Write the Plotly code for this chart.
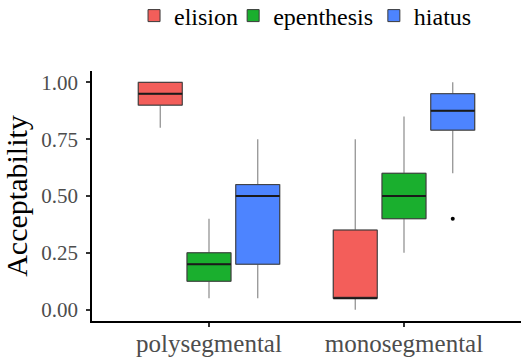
import plotly.graph_objects as go

# ---- data ----
categories = ["polysegmental", "monosegmental"]
groups = ["elision", "epenthesis", "hiatus"]
colors = ["#F35E5A", "#1AAF2E", "#4D84FF"]

# per group: values for [polysegmental, monosegmental]
lower_whisker = {"elision": [0.80, 0.00], "epenthesis": [0.05, 0.25], "hiatus": [0.05, 0.60]}
q1_vals = {"elision": [0.90, 0.05], "epenthesis": [0.125, 0.40], "hiatus": [0.20, 0.79]}
median_vals = {"elision": [0.95, 0.05], "epenthesis": [0.20, 0.50], "hiatus": [0.50, 0.875]}
q3_vals = {"elision": [1.00, 0.35], "epenthesis": [0.25, 0.60], "hiatus": [0.55, 0.95]}
upper_whisker = {"elision": [1.00, 0.75], "epenthesis": [0.40, 0.85], "hiatus": [0.75, 1.00]}
outliers = {"hiatus": [("monosegmental", 0.40)]}

y_ticks = [0.0, 0.25, 0.5, 0.75, 1.0]
y_tick_labels = ["0.00", "0.25", "0.50", "0.75", "1.00"]

# ---- layout constants ----
DODGE = 0.75
SLOT = DODGE / len(groups)
BOX_W = SLOT * 0.9
FONT = "Liberation Serif"
LEGEND_X = [0.098, 0.329, 0.657]   # legend entry positions (paper fraction)
LEGEND_IDS = ["legend", "legend2", "legend3"]

fig = go.Figure()
cat_idx = {c: i for i, c in enumerate(categories)}

for k, (g, col) in enumerate(zip(groups, colors)):
    off = (k - (len(groups) - 1) / 2) * SLOT
    xs = [cat_idx[c] + off for c in categories]
    # whiskers (grey)
    fig.add_trace(go.Box(
        x=xs, q1=q1_vals[g], median=median_vals[g], q3=q3_vals[g],
        lowerfence=lower_whisker[g], upperfence=upper_whisker[g],
        width=BOX_W, whiskerwidth=0, fillcolor="rgba(0,0,0,0)",
        line=dict(color="#8c8c8c", width=1.2), showlegend=False,
        hoverinfo="skip", boxpoints=False, name=g,
    ))
    # box body
    fig.add_trace(go.Box(
        x=xs, q1=q1_vals[g], median=median_vals[g], q3=q3_vals[g],
        lowerfence=q1_vals[g], upperfence=q3_vals[g],
        width=BOX_W, whiskerwidth=0, fillcolor=col,
        line=dict(color="#3a3a3a", width=1), showlegend=True,
        legend=LEGEND_IDS[k], boxpoints=False, name=g,
    ))
    # thicker median
    fig.add_trace(go.Box(
        x=xs, q1=median_vals[g], median=median_vals[g], q3=median_vals[g],
        lowerfence=median_vals[g], upperfence=median_vals[g],
        width=BOX_W, whiskerwidth=0, fillcolor="rgba(0,0,0,0)",
        line=dict(color="#1a1a1a", width=2), showlegend=False,
        hoverinfo="skip", boxpoints=False, name=g,
    ))
    if g in outliers:
        fig.add_trace(go.Scatter(
            x=[cat_idx[c] + off for c, _ in outliers[g]],
            y=[v for _, v in outliers[g]],
            mode="markers", marker=dict(color="black", size=4),
            showlegend=False, hoverinfo="skip",
        ))

legend_style = dict(orientation="h", xanchor="left", y=1.22, yref="paper",
                    yanchor="middle", font=dict(size=24, color="black", family=FONT),
                    itemwidth=30, bgcolor="rgba(0,0,0,0)")

fig.update_layout(
    width=521, height=357,
    margin=dict(l=92, r=0, t=71, b=36, autoexpand=False),
    paper_bgcolor="white", plot_bgcolor="white",
    boxmode="overlay",
    font=dict(family=FONT, color="black"),
    showlegend=True,
    legend=dict(x=LEGEND_X[0], **legend_style),
    legend2=dict(x=LEGEND_X[1], **legend_style),
    legend3=dict(x=LEGEND_X[2], **legend_style),
    xaxis=dict(range=[-0.6, 1.6], tickvals=[cat_idx[c] for c in categories],
               ticktext=categories, showgrid=False, zeroline=False,
               showline=True, linecolor="black", linewidth=1.5,
               ticks="outside", ticklen=4, tickwidth=1.5, tickcolor="#333333",
               ticklabelstandoff=-5,
               tickfont=dict(size=25, color="#4D4D4D", family=FONT)),
    yaxis=dict(range=[-0.05, 1.05], tickvals=y_ticks, ticktext=y_tick_labels,
               showgrid=False, zeroline=False,
               showline=True, linecolor="black", linewidth=1.5,
               ticks="outside", ticklen=4, tickwidth=1.5, tickcolor="#333333",
               ticklabelstandoff=4,
               tickfont=dict(size=21, color="#4D4D4D", family=FONT),
               title=dict(text="Acceptability", font=dict(size=30, color="black", family=FONT),
                          standoff=5)),
)

fig.write_html("out.html", config={"displayModeBar": False},
               post_script="document.body.style.margin='0';")
